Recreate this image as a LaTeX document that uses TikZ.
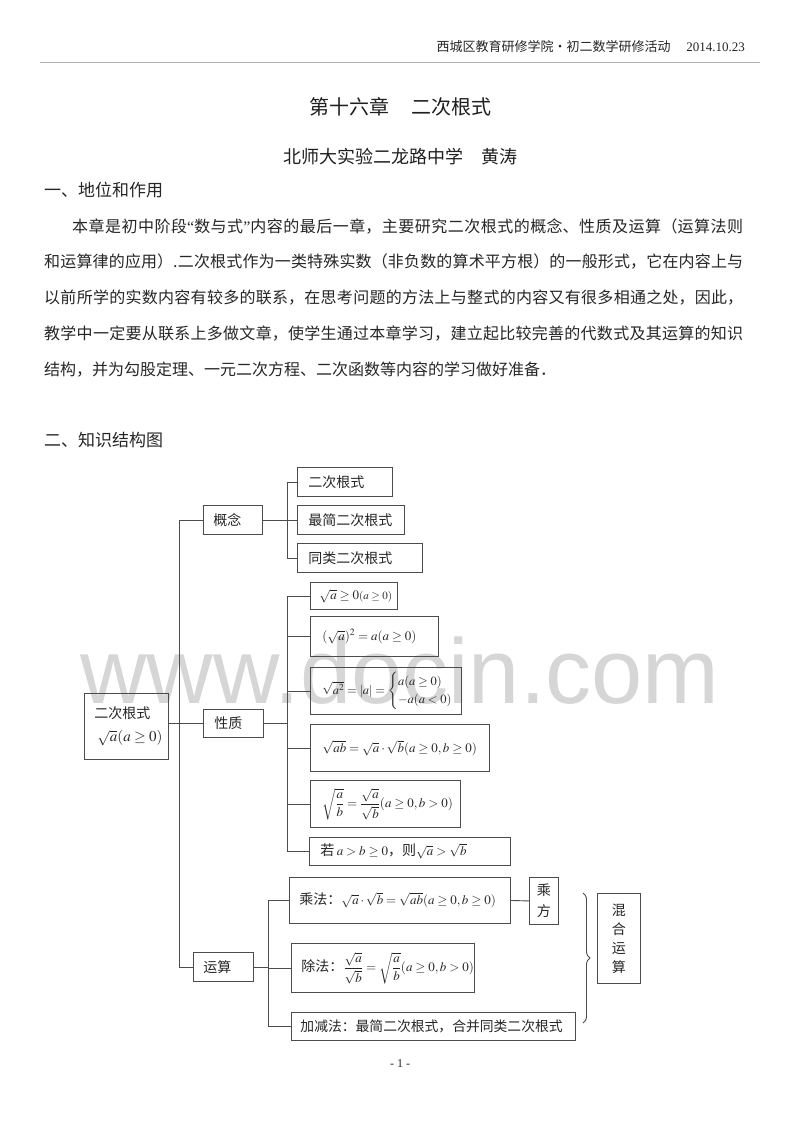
\documentclass[tikz,border=0pt]{standalone}
\usepackage{amsmath}
\usepackage{mathptmx}
\usepackage[no-math]{fontspec}
\setmainfont{Noto Sans CJK SC}
\newfontfamily\tnr{Liberation Serif}
\newfontfamily\wmf{Liberation Sans}
\usetikzlibrary{decorations.pathreplacing}
\newcommand{\jline}[2]{\parbox{#1}{\XeTeXlinebreaklocale "zh"\XeTeXlinebreakskip=0pt plus 4pt\relax\parfillskip=0pt\relax\noindent #2}}
\newcommand{\sm}[1]{{\fontsize{13}{15}\selectfont$#1$}}
\tikzset{
  ln/.style={draw=black!70, line width=0.9pt},
  bx/.style={draw=black!70, line width=0.9pt, anchor=north west, inner ysep=0pt, align=left, text=black!85, font=\fontsize{14}{17}\selectfont},
  cbx/.style={draw=black!70, line width=0.9pt, anchor=north west, inner sep=0pt, align=center, text=black!85, font=\fontsize{14}{17}\selectfont},
  body/.style={anchor=west, inner sep=0pt, text=black!85, font=\fontsize{16}{19}\selectfont},
}
\begin{document}
\begin{tikzpicture}[x=1pt, y=-1pt]
\fill[white] (0,0) rectangle (800,1130);
\useasboundingbox (0,0) rectangle (800,1130);
% watermark
\node[anchor=base, inner sep=0pt, text=black!16, font=\fontsize{92}{92}\selectfont\wmf] (wm) at (400,703) {www.docin.com};
% header
\node[anchor=east, inner sep=0pt, text=black!85, font=\fontsize{13}{15}\selectfont] (hdr) at (745,47) {西城区教育研修学院•初二数学研修活动\hspace{1.2em}{\tnr 2014.10.23}};
\draw[black!30, line width=0.6pt] (40,62) -- (760,62);
% titles
\node[inner sep=0pt, text=black!88, font=\fontsize{20}{24}\selectfont] (title) at (400,107) {第十六章\hspace{1.1em}二次根式};
\node[inner sep=0pt, text=black!88, font=\fontsize{18}{22}\selectfont] (sub) at (400,157) {北师大实验二龙路中学\hspace{1em}黄涛};
\node[body, font=\fontsize{17}{20}\selectfont] (s1) at (44,190) {一、地位和作用};
\node[body] (l1) at (72,226) {\jline{671pt}{本章是初中阶段{\tnr “}数与式{\tnr ”}内容的最后一章，主要研究二次根式的概念、性质及运算（运算法则}};
\node[body] (l2) at (44,262) {\jline{699pt}{和运算律的应用）.二次根式作为一类特殊实数（非负数的算术平方根）的一般形式，它在内容上与}};
\node[body] (l3) at (44,298) {\jline{699pt}{以前所学的实数内容有较多的联系，在思考问题的方法上与整式的内容又有很多相通之处，因此，}};
\node[body] (l4) at (44,334) {\jline{699pt}{教学中一定要从联系上多做文章，使学生通过本章学习，建立起比较完善的代数式及其运算的知识}};
\node[body] (l5) at (44,370) {结构，并为勾股定理、一元二次方程、二次函数等内容的学习做好准备．};
\node[body, font=\fontsize{17}{20}\selectfont] (s2) at (44,440) {二、知识结构图};
% diagram boxes
\node[bx, inner xsep=10pt, text width=64pt, minimum height=66pt] (root) at (84,693) {二次根式\\[6pt]\hspace*{3pt}\mbox{\fontsize{15}{18}\selectfont$\sqrt{a}(a\geq 0)$}};
\node[bx, inner xsep=10pt, text width=39pt, minimum height=29pt] (gn) at (203,505) {概念};
\node[bx, inner xsep=11pt, text width=38pt, minimum height=28pt] (xz) at (203,709) {性质};
\node[bx, inner xsep=10pt, text width=40pt, minimum height=29pt] (ys) at (193,952) {运算};
\node[bx, inner xsep=11pt, text width=73pt, minimum height=29pt] (c1) at (297,467) {二次根式};
\node[bx, inner xsep=11pt, text width=85pt, minimum height=29pt] (c2) at (297,505) {\mbox{最简二次根式}};
\node[bx, inner xsep=11pt, text width=103pt, minimum height=29pt] (c3) at (297,543) {同类二次根式};
\node[bx, inner xsep=9pt, text width=69pt, minimum height=27pt] (p1) at (310,582) {\mbox{\sm{\sqrt{a}\geq 0}{\fontsize{11}{13}\selectfont$(a\geq 0)$}}};
\node[bx, inner xsep=12pt, text width=104pt, minimum height=40pt] (p2) at (310,616) {\mbox{\sm{(\sqrt{a})^2=a(a\geq 0)}}};
\node[bx, inner xsep=12pt, text width=127pt, minimum height=47pt, font=\fontsize{12.5}{15}\selectfont] (p3) at (310,667) {\mbox{$\sqrt{a^2}=|a|=\begin{cases}a(a\geq 0)\\-a(a<0)\end{cases}$}};
\node[bx, inner xsep=12pt, text width=155pt, minimum height=47pt] (p4) at (310,724) {\mbox{\sm{\sqrt{ab}=\sqrt{a}\cdot\sqrt{b}(a\geq 0,b\geq 0)}}};
\node[bx, inner xsep=12pt, text width=126pt, minimum height=47pt] (p5) at (310,780) {\mbox{\sm{\sqrt{\dfrac{a}{b}}=\dfrac{\sqrt{a}}{\sqrt{b}}(a\geq 0,b>0)}}};
\node[bx, inner xsep=11pt, text width=179pt, minimum height=28pt] (p6) at (309,837) {\mbox{若\,\sm{a>b\geq 0}，则\sm{\sqrt{a}>\sqrt{b}}}};
\node[bx, inner xsep=10pt, text width=201pt, minimum height=46pt] (m1) at (289,877) {\mbox{乘法：\sm{\sqrt{a}\cdot\sqrt{b}=\sqrt{ab}(a\geq 0,b\geq 0)}}};
\node[cbx, minimum width=29pt, minimum height=47pt] (cf) at (529,877) {乘\\[4pt]方};
\node[bx, inner xsep=10pt, text width=163pt, minimum height=49pt] (m2) at (291,943) {\mbox{除法：\sm{\dfrac{\sqrt{a}}{\sqrt{b}}=\sqrt{\dfrac{a}{b}}(a\geq 0,b>0)}}};
\node[bx, inner xsep=9pt, text width=266pt, minimum height=28pt] (m3) at (291,1012) {\mbox{\fontsize{13.8}{16}\selectfont 加减法：最简二次根式，合并同类二次根式}};
\node[cbx, minimum width=43pt, minimum height=90pt] (hh) at (597,893) {混\\[2pt]合\\[2pt]运\\[2pt]算};
% bus coordinates
\coordinate (sp) at (179,0);
\coordinate (b1) at (287,0);
\coordinate (b2) at (287,0);
\coordinate (b3) at (268,0);
% connectors
\draw[ln] (gn.west) -- (gn.west -| sp) -- (ys.west -| sp) -- (ys.west);
\draw[ln] (xz.west -| root.east) -- (xz.west);
\draw[ln] (gn.east) -- (gn.east -| b1);
\draw[ln] (c1.west) -- (c1.west -| b1) -- (c3.west -| b1) -- (c3.west);
\draw[ln] (c2.west) -- (c2.west -| b1);
\draw[ln] (xz.east) -- (xz.east -| b2);
\draw[ln] (p1.west) -- (p1.west -| b2) -- (p6.west -| b2) -- (p6.west);
\foreach \p in {p2,p3,p4,p5} \draw[ln] (\p.west) -- (\p.west -| b2);
\draw[ln] (ys.east) -- (ys.east -| b3);
\draw[ln] (m1.west) -- (m1.west -| b3) -- (m3.west -| b3) -- (m3.west);
\draw[ln] (m2.west) -- (m2.west -| b3);
\draw[ln] (m1.east) -- (cf.west);
% brace
\coordinate (brt) at (583,893);
\coordinate (brb) at (583,1023);
\draw[ln, decorate, decoration={brace, amplitude=7pt}] (brt) -- (brb);
% page number
\node[inner sep=0pt, text=black!85, font=\fontsize{12}{14}\selectfont\tnr] (pg) at (400,1064) {- 1 -};
\end{tikzpicture}
\end{document}
